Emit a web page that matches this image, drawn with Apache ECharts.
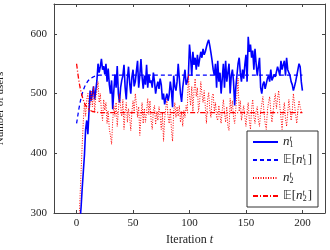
<!DOCTYPE html>
<html>
<head>
<meta charset="utf-8">
<script src="https://cdn.jsdelivr.net/npm/echarts@6/dist/echarts.min.js"></script>
<style>
  html, body { margin: 0; padding: 0; background: #fff; }
  #chart { width: 330px; height: 250px; }
</style>
</head>
<body>
<div id="chart"></div>
<script>
const xTicks = [0, 50, 100, 150, 200];
const yTicks = [300, 400, 500, 600];

// n_1^t, one value per iteration t = 0..200
const n1 = [
  200, 230, 255, 286, 310, 342, 370, 398, 440, 455,
  432, 470, 505, 488, 500, 512, 490, 505, 522, 550,
  535, 545, 558, 540, 546, 532, 550, 520, 542, 515,
  500, 522, 474, 505, 532, 510, 546, 500, 485, 510,
  522, 530, 548, 510, 490, 525, 545, 518, 500, 528,
  540, 512, 520, 538, 555, 510, 530, 558, 528, 508,
  530, 515, 548, 510, 532, 518, 522, 510, 535, 520,
  500, 512, 520, 508, 525, 515, 490, 500, 482, 492,
  500, 488, 498, 520, 505, 477, 530, 512, 505, 520,
  550, 525, 500, 486, 510, 525, 540, 515, 520, 530,
  582, 560, 530, 570, 548, 560, 540, 565, 545, 558,
  570, 560, 575, 565, 570, 578, 585, 590, 580, 568,
  555, 540, 530, 550, 510, 555, 520, 535, 500, 525,
  550, 510, 555, 520, 535, 550, 500, 530, 540, 520,
  480, 510, 530, 550, 560, 535, 520, 540, 525, 548,
  565, 520, 595, 570, 582, 560, 572, 540, 575, 550,
  530, 545, 560, 510, 500, 515, 520, 508, 510, 525,
  530, 520, 540, 522, 520, 532, 528, 525, 545, 538,
  530, 555, 540, 548, 555, 530, 560, 540, 535, 530,
  520, 515, 505, 512, 520, 530, 540, 550, 545, 520,
  505
];

// n_2^t, one value per iteration t = 0..200
const n2 = [
  190, 235, 280, 325, 370, 415, 455, 485, 462, 490,
  500, 470, 482, 505, 478, 512, 468, 495, 505, 520,
  485, 500, 470, 455, 490, 472, 485, 450, 470, 440,
  430, 415, 455, 480, 462, 485, 445, 470, 500, 478,
  462, 490, 440, 470, 485, 452, 475, 460, 438, 470,
  488, 470, 500, 482, 460, 478, 430, 462, 485, 450,
  475, 452, 470, 492, 465, 488, 455, 440, 472, 480,
  448, 470, 455, 478, 462, 440, 468, 420, 458, 475,
  490, 462, 450, 475, 440, 420, 470, 485, 460, 478,
  462, 480, 452, 470, 445, 472, 460, 480, 470, 532,
  498, 480, 512, 470, 505, 525, 495, 510, 470, 485,
  520, 500, 485, 505, 478, 450, 490, 502, 472, 460,
  495, 500, 470, 485, 460, 455, 480, 462, 450, 472,
  490, 468, 452, 478, 445, 438, 492, 470, 488, 460,
  450, 475, 498, 526, 470, 488, 455, 468, 480, 462,
  445, 470, 485, 455, 440, 475, 490, 462, 450, 470,
  478, 455, 445, 470, 482, 495, 468, 450, 440, 472,
  485, 495, 470, 452, 468, 488, 500, 475, 492, 505,
  478, 460, 440, 470, 485, 458, 445, 468, 490, 472,
  455, 470, 500, 482, 465, 450, 472, 488, 478, 470,
  468
];

// expectations, [t, value]
const en1 = [
  [0, 450], [1, 462], [2, 474], [3, 484], [4, 493], [5, 500], [6, 506],
  [7, 511], [8, 515], [9, 518], [10, 521], [12, 525], [14, 527],
  [16, 529], [18, 530], [20, 531], [200, 531]
];
const en2 = [
  [0, 550], [1, 535], [2, 522], [3, 511], [4, 502], [5, 495], [6, 489],
  [7, 484], [8, 480], [9, 477], [10, 475], [12, 472], [14, 470],
  [17, 469], [20, 468], [200, 468]
];

const SERIF = "'Liberation Serif', 'DejaVu Serif', serif";
const AXIS = "#444";
const BLUE = "#0000ff";
const RED = "#ff0000";

const legendText = {
  n1: "{it|n}{sp|t}{sb|1}",
  En1: "{bb|\u{1D53C}}{rm|[}{it|n}{sp|t}{sb|1}{rm|]}",
  n2: "{it|n}{sp|t}{sb|2}",
  En2: "{bb|\u{1D53C}}{rm|[}{it|n}{sp|t}{sb|2}{rm|]}",
};

const chart = echarts.init(document.getElementById("chart"), null, { renderer: "canvas" });

const tickAxis = (extra) => Object.assign({
  type: "value",
  axisLine: { show: true, onZero: false, lineStyle: { color: AXIS, width: 1 } },
  splitLine: { show: false },
}, extra);

const ticks = (values) => ({
  show: true, inside: true, length: 3, lineStyle: { color: AXIS }, customValues: values,
});

chart.setOption({
  animation: false,
  textStyle: { fontFamily: SERIF },
  grid: { left: 54, right: 5, top: 4, bottom: 37, containLabel: false, outerBoundsMode: "none" },
  xAxis: [
    tickAxis({
      position: "bottom", min: -20, max: 220,
      name: "{r|Iteration }{i|t}",
      nameLocation: "middle", nameGap: 12,
      nameTextStyle: {
        rich: {
          r: { fontFamily: SERIF, fontSize: 12, color: "#222" },
          i: { fontFamily: SERIF, fontSize: 12, fontStyle: "italic", color: "#222" },
        },
      },
      axisTick: ticks(xTicks),
      axisLabel: { customValues: xTicks, margin: 5, fontSize: 11, fontFamily: SERIF, color: "#222" },
    }),
    tickAxis({
      position: "top", min: -20, max: 220,
      axisTick: ticks(xTicks),
      axisLabel: { show: false },
    }),
  ],
  yAxis: [
    tickAxis({
      position: "left", min: 300, max: 650,
      name: "Number of users",
      nameLocation: "middle", nameGap: 48,
      nameTextStyle: { fontFamily: SERIF, fontSize: 11, color: "#222" },
      axisTick: ticks(yTicks),
      axisLabel: { customValues: yTicks, margin: 7, fontSize: 11, fontFamily: SERIF, color: "#222" },
    }),
    tickAxis({
      position: "right", min: 300, max: 650,
      axisTick: ticks(yTicks),
      axisLabel: { show: false },
    }),
  ],
  legend: {
    orient: "vertical",
    left: 247,
    top: 131,
    padding: [4, 6, 4, 5],
    itemGap: 4,
    itemWidth: 25,
    itemHeight: 14,
    itemTextGap: 4,
    backgroundColor: "#fff",
    borderColor: "#333",
    borderWidth: 1,
    borderRadius: 0,
    itemStyle: { color: "transparent", borderWidth: 0, opacity: 0 },
    data: ["n1", "En1", "n2", "En2"],
    formatter: (name) => legendText[name],
    textStyle: {
      color: "#222",
      rich: {
        it: { fontFamily: SERIF, fontSize: 13, fontStyle: "italic", color: "#222", lineHeight: 14 },
        rm: { fontFamily: SERIF, fontSize: 13, color: "#222", lineHeight: 14 },
        bb: { fontFamily: "'DejaVu Sans', sans-serif", fontSize: 12, color: "#222", lineHeight: 14 },
        sp: { fontFamily: SERIF, fontSize: 8, fontStyle: "italic", color: "#222", verticalAlign: "top", width: 0.1 },
        sb: { fontFamily: SERIF, fontSize: 8, color: "#222", verticalAlign: "bottom", width: 5 },
      },
    },
  },
  series: [
    {
      name: "n1", type: "line", symbol: "none", z: 2,
      data: n1.map((v, t) => [t, v]),
      lineStyle: { color: BLUE, width: 1.6 },
      itemStyle: { color: BLUE },
    },
    {
      name: "En1", type: "line", symbol: "none", z: 3,
      data: en1,
      lineStyle: { color: BLUE, width: 1.3, type: [4, 3] },
      itemStyle: { color: BLUE },
    },
    {
      name: "n2", type: "line", symbol: "none", z: 4,
      data: n2.map((v, t) => [t, v]),
      lineStyle: { color: RED, width: 1, type: [1, 1.5] },
      itemStyle: { color: RED },
    },
    {
      name: "En2", type: "line", symbol: "none", z: 5,
      data: en2,
      lineStyle: { color: RED, width: 1.3, type: [5, 2, 1, 2] },
      itemStyle: { color: RED },
    },
  ],
});
</script>
</body>
</html>
